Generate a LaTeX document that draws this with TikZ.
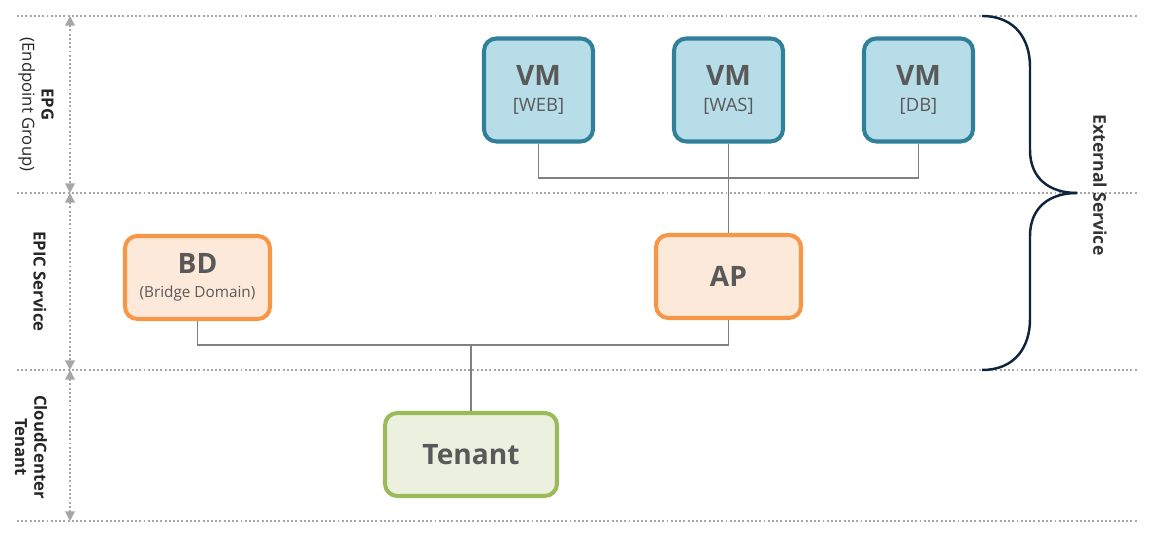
\documentclass[tikz,border=0pt]{standalone}
\usepackage{fontspec}
\setmainfont{Open Sans}
\usetikzlibrary{arrows.meta}
\definecolor{vmfill}{HTML}{B7DDE8}
\definecolor{vmline}{HTML}{31809A}
\definecolor{bdfill}{HTML}{FDE9D9}
\definecolor{bdline}{HTML}{F79646}
\definecolor{tnfill}{HTML}{EBF1DE}
\definecolor{tnline}{HTML}{9BBB59}
\definecolor{txtgray}{HTML}{595959}
\definecolor{lnkgray}{HTML}{808080}
\definecolor{sepgray}{HTML}{A6A6A6}
\definecolor{bracenavy}{HTML}{0F243E}
\newcommand{\bigtxt}[1]{{\fontsize{16}{16}\selectfont\bfseries #1}}
\newcommand{\subtxt}[1]{{\fontsize{10.5}{12}\selectfont #1}}
\begin{document}
\begin{tikzpicture}[
	vmbox/.style={draw=vmline, fill=vmfill, line width=2.3pt, rounded corners=7pt, minimum width=2.18cm, minimum height=2.06cm, align=center, text=txtgray},
	svcbox/.style={draw=bdline, fill=bdfill, line width=2.3pt, rounded corners=7pt, minimum width=2.9cm, minimum height=1.66cm, align=center, text=txtgray},
	tnbox/.style={draw=tnline, fill=tnfill, line width=2.3pt, rounded corners=7pt, minimum width=3.44cm, minimum height=1.66cm, align=center, text=txtgray},
	link/.style={draw=lnkgray, line width=0.6pt},
	sepline/.style={draw=sepgray, line width=0.9pt, dash pattern=on 1.1pt off 1.3pt},
	levelarrow/.style={draw=sepgray, line width=0.9pt, dash pattern=on 1.1pt off 1.3pt, {Triangle[width=5.5pt,length=5.5pt]}-{Triangle[width=5.5pt,length=5.5pt]}},
	sidelabel/.style={rotate=-90, align=center, font=\fontsize{9.5}{11}\selectfont, text=black!85}
]
\useasboundingbox (0 cm, 0 cm) rectangle (23.1 cm, 10.78 cm);
% layer separators
\foreach \y in {10.46,6.92,3.38,0.36}{
	\draw[sepline] (0.34 cm, \y cm) -- (22.76 cm, \y cm);
}
\foreach \a/\b in {10.46/6.92,6.92/3.38,3.38/0.36}{
	\draw[levelarrow] (1.4 cm, \a cm) -- (1.4 cm, \b cm);
}
\node[sidelabel] (EPG) at (0.72 cm, 8.69 cm) {\textbf{EPG}\\(Endpoint Group)};
\node[sidelabel] (EPIC) at (0.8 cm, 5.15 cm) {\textbf{EPIC Service}};
\node[sidelabel] (CCT) at (0.62 cm, 1.84 cm) {\textbf{CloudCenter}\\\textbf{Tenant}};
% boxes
\node[vmbox] (WEB) at (10.77 cm, 8.98 cm) {\bigtxt{VM}\\[3pt]\subtxt{[WEB]}};
\node[vmbox] (WAS) at (14.57 cm, 8.98 cm) {\bigtxt{VM}\\[3pt]\subtxt{[WAS]}};
\node[vmbox] (DB) at (18.37 cm, 8.98 cm) {\bigtxt{VM}\\[3pt]\subtxt{[DB]}};
\node[svcbox] (BD) at (3.95 cm, 5.23 cm) {\bigtxt{BD}\\[2pt]{\fontsize{8.7}{10}\selectfont (Bridge Domain)}};
\node[svcbox] (AP) at (14.57 cm, 5.25 cm) {\bigtxt{AP}};
\node[tnbox] (Tenant) at (9.42 cm, 1.69 cm) {\bigtxt{Tenant}};
% links
\coordinate (vmbus) at (14.57 cm, 7.22 cm);
\coordinate (svcbus) at (9.42 cm, 3.88 cm);
\draw[link] (WEB.south) |- (vmbus) -| (DB.south);
\draw[link] (WAS.south) -- (AP.north);
\draw[link] (BD.south) |- (svcbus) -| (AP.south);
\draw[link] (svcbus) -- (Tenant.north);
% brace
\draw[draw=bracenavy, line width=1.4pt] (19.64 cm, 10.46 cm) .. controls (20.3 cm, 10.46 cm) and (20.6 cm, 10.0 cm) .. (20.6 cm, 9.44 cm) -- (20.6 cm, 7.78 cm) .. controls (20.6 cm, 7.2 cm) and (21.0 cm, 6.92 cm) .. (21.54 cm, 6.92 cm);
\draw[draw=bracenavy, line width=1.4pt] (19.64 cm, 3.38 cm) .. controls (20.3 cm, 3.38 cm) and (20.6 cm, 3.84 cm) .. (20.6 cm, 4.4 cm) -- (20.6 cm, 6.06 cm) .. controls (20.6 cm, 6.64 cm) and (21.0 cm, 6.92 cm) .. (21.54 cm, 6.92 cm);
\node[sidelabel, font=\fontsize{10}{12}\selectfont\bfseries, text=black!80] (ext) at (22.0 cm, 7.08 cm) {External Service};
\end{tikzpicture}
\end{document}
